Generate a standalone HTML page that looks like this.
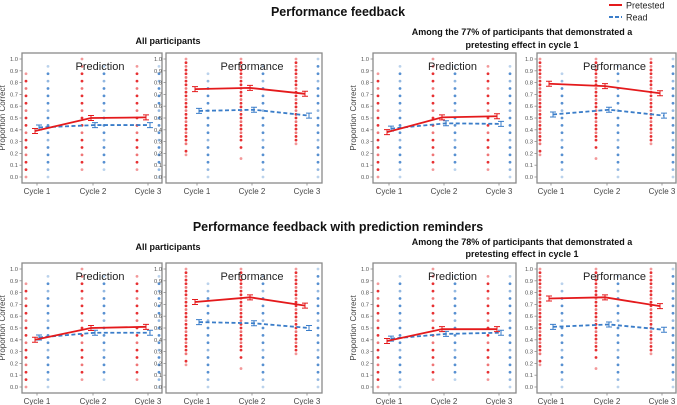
<!DOCTYPE html>
<html><head><meta charset="utf-8">
<style>
html,body{margin:0;padding:0;background:#fff;}
svg{display:block;font-family:"Liberation Sans",sans-serif;}
</style></head>
<body>
<svg id="fig" width="677" height="405" viewBox="0 0 677 405">
<text x="338" y="16" text-anchor="middle" font-size="12.5" font-weight="bold" fill="#111">Performance feedback</text>
<text x="168" y="44" text-anchor="middle" font-size="9" font-weight="bold" fill="#111">All participants</text>
<text x="522" y="35" text-anchor="middle" font-size="9" font-weight="bold" fill="#111">Among the 77% of participants that demonstrated a</text>
<text x="522" y="48" text-anchor="middle" font-size="9" font-weight="bold" fill="#111">pretesting effect in cycle 1</text>
<text x="338" y="231" text-anchor="middle" font-size="12.5" font-weight="bold" fill="#111">Performance feedback with prediction reminders</text>
<text x="168" y="250" text-anchor="middle" font-size="9" font-weight="bold" fill="#111">All participants</text>
<text x="522" y="245" text-anchor="middle" font-size="9" font-weight="bold" fill="#111">Among the 78% of participants that demonstrated a</text>
<text x="522" y="257" text-anchor="middle" font-size="9" font-weight="bold" fill="#111">pretesting effect in cycle 1</text>
<g>
<line x1="609" y1="5" x2="622" y2="5" stroke="#e41a1c" stroke-width="2"/>
<text x="626" y="8.5" font-size="9" fill="#222">Pretested</text>
<line x1="609" y1="17" x2="622" y2="17" stroke="#3a7dc9" stroke-width="2" stroke-dasharray="4,2"/>
<text x="626" y="20.5" font-size="9" fill="#222">Read</text>
</g>
</svg>
<script>
const cycles = ["Cycle 1","Cycle 2","Cycle 3"];
const yTicks = [0,0.1,0.2,0.3,0.4,0.5,0.6,0.7,0.8,0.9,1.0];
const tlPredRed = [0.39,0.50,0.505], tlPredBlue = [0.42,0.44,0.44];
const tlPerfRed = [0.745,0.755,0.705], tlPerfBlue = [0.56,0.57,0.52];
const trPredRed = [0.38,0.505,0.515], trPredBlue = [0.41,0.455,0.45];
const trPerfRed = [0.79,0.77,0.71], trPerfBlue = [0.53,0.57,0.52];
const blPredRed = [0.40,0.50,0.51], blPredBlue = [0.42,0.46,0.46];
const blPerfRed = [0.72,0.76,0.69], blPerfBlue = [0.55,0.54,0.50];
const brPredRed = [0.39,0.49,0.49], brPredBlue = [0.41,0.45,0.46];
const brPerfRed = [0.75,0.76,0.685], brPerfBlue = [0.51,0.53,0.485];
const predRedDots = [[0,1,2,3,4,5,6,7,8,9,10,11,12,13,14],[1,2,3,4,5,6,7,8,9,10,11,12,13,14,15,16],[1,2,3,4,5,6,7,8,9,10,11,12,13,14,15]];
const predBlueDots = [[0,1,2,3,4,5,6,7,8,9,10,11,12,13,14,15],[1,2,3,4,5,6,7,8,9,10,11,12,13,14,15],[0,1,2,3,4,5,6,7,8,9,10,11,12,13,14,15]];
const perfRedDots = [[6,7,9,10,11,12,13,14,15,16,17,18,19,20,21,22,23,24,25,26,27,28,29,30,31,32],[5,8,10,11,12,13,14,15,16,17,18,19,20,21,22,23,24,25,26,27,28,29,30,31,32],[9,10,11,12,13,14,15,16,17,18,19,20,21,22,23,24,25,26,27,28,29,30,31,32]];
const perfBlueDots = [[0,1,2,3,4,5,6,7,8,9,10,11,12,13,14],[0,1,2,3,4,5,6,7,8,9,10,11,12,13,14,15],[0,1,2,3,4,5,6,7,8,9,10,11,12,13,14,15,16]];

const NS="http://www.w3.org/2000/svg";
const svg=document.getElementById('fig');
function mk(tag,attrs,parent){const e=document.createElementNS(NS,tag);for(const k in attrs)e.setAttribute(k,attrs[k]);(parent||svg).appendChild(e);return e;}

const panels=[
 {x0:22,x1:162,cx:[37,93,148],dy:0,title:"Prediction",r:tlPredRed,b:tlPredBlue,kind:"pred",ylab:true,id:"tl-prediction"},
 {x0:166,x1:322,cx:[197,252,307],dy:0,title:"Performance",r:tlPerfRed,b:tlPerfBlue,kind:"perf",ylab:false,id:"tl-performance"},
 {x0:373,x1:516,cx:[389,444,499],dy:0,title:"Prediction",r:trPredRed,b:trPredBlue,kind:"pred",ylab:true,id:"tr-prediction"},
 {x0:537,x1:676,cx:[551,607,662],dy:0,title:"Performance",r:trPerfRed,b:trPerfBlue,kind:"perf",ylab:false,id:"tr-performance"},
 {x0:22,x1:162,cx:[37,93,148],dy:210,title:"Prediction",r:blPredRed,b:blPredBlue,kind:"pred",ylab:true,id:"bl-prediction"},
 {x0:166,x1:322,cx:[197,252,307],dy:210,title:"Performance",r:blPerfRed,b:blPerfBlue,kind:"perf",ylab:false,id:"bl-performance"},
 {x0:373,x1:516,cx:[389,444,499],dy:210,title:"Prediction",r:brPredRed,b:brPredBlue,kind:"pred",ylab:true,id:"br-prediction"},
 {x0:537,x1:676,cx:[551,607,662],dy:210,title:"Performance",r:brPerfRed,b:brPerfBlue,kind:"perf",ylab:false,id:"br-performance"}
];

panels.forEach(p=>{
 const g=mk('g',{});
 
 
 const yv=v=>p.dy+177-v*118;
 const top=p.dy+53, bot=p.dy+183;
 yTicks.forEach(t=>{
  mk('line',{x1:p.x0-2.5,x2:p.x0,y1:yv(t),y2:yv(t),stroke:'#888','stroke-width':0.8},g);
  const tx=mk('text',{x:p.x0-4,y:yv(t)+2,'text-anchor':'end','font-size':5.8,fill:'#555'},g);
  tx.textContent=t.toFixed(1);
  
  
 });
 if(p.ylab){
  const yl=mk('text',{x:0,y:0,'text-anchor':'middle','font-size':8,fill:'#444',transform:`translate(${p.x0-17},${p.dy+118}) rotate(-90)`},g);
  yl.textContent='Proportion Correct';
  
  
 }
 const redDots=p.kind==='pred'?predRedDots:perfRedDots;
 const blueDots=p.kind==='pred'?predBlueDots:perfBlueDots;
 const rden=p.kind==='pred'?16:32;
 redDots.forEach((col,i)=>col.forEach((k,j)=>{
  const op=(j===0||j===col.length-1)?0.45:(k%3===0?0.6:0.9);
  const c=mk('circle',{cx:p.cx[i]-11,cy:yv(k/rden),r:1.4,fill:'#e41a1c','fill-opacity':op},g);
  
  
 }));
 blueDots.forEach((col,i)=>col.forEach((k,j)=>{
  const op=(j===0||j===col.length-1)?0.35:(k%4===1?0.55:0.85);
  const c=mk('circle',{cx:p.cx[i]+11,cy:yv(k/16),r:1.4,fill:'#3a7dc9','fill-opacity':op},g);
  
  
 }));
 const series=[[p.b,'#3a7dc9',2,'4,2.5','read'],[p.r,'#e41a1c',-2,'','pretested']];
 series.forEach(([vals,col,off,dash,nm])=>{
  const pts=vals.map((v,i)=>`${p.cx[i]+off},${yv(v)}`).join(' ');
  const pl=mk('polyline',{points:pts,fill:'none',stroke:col,'stroke-width':1.8,'stroke-dasharray':dash},g);
  
  
  vals.forEach((v,i)=>{
   const x=p.cx[i]+off,y=yv(v);
   const eb=mk('path',{d:`M${x-3},${y-2.5}H${x+3}M${x},${y-2.5}V${y+2.5}M${x-3},${y+2.5}H${x+3}`,stroke:col,'stroke-width':1,fill:'none'},g);
   
   
  });
 });
 const fr=mk('rect',{x:p.x0,y:top,width:p.x1-p.x0,height:bot-top,fill:'none',stroke:'#8a8a8a','stroke-width':1.3},g);
 
 
 p.cx.forEach((x,i)=>{
  mk('line',{x1:x,x2:x,y1:bot,y2:bot+2.5,stroke:'#888','stroke-width':0.8},g);
  const t=mk('text',{x:x,y:bot+11,'text-anchor':'middle','font-size':8,fill:'#444'},g);
  t.textContent=cycles[i];
  
  
 });
 const ti=mk('text',{x:(p.x0+p.x1)/2+8,y:p.dy+70,'text-anchor':'middle','font-size':11,fill:'#222'},g);
 ti.textContent=p.title;
 
 
});
</script>
</body></html>
